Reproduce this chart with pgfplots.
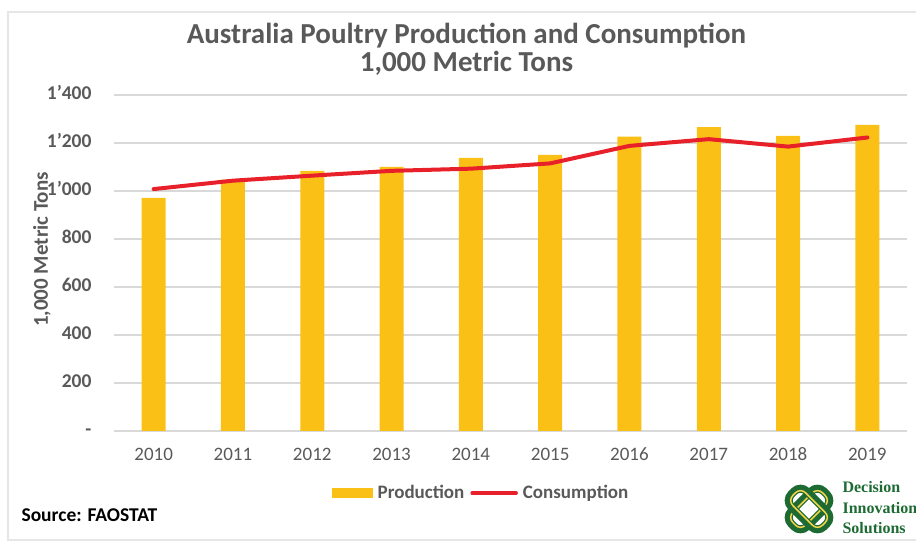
\documentclass[border=0pt]{standalone}
\usepackage{fontspec}
\setmainfont{Carlito}
\newfontfamily\logofont{Liberation Serif}
\usepackage{pgfplots}
\pgfplotsset{compat=1.18}
\definecolor{txtgray}{HTML}{595959}
\definecolor{gridgray}{HTML}{D9D9D9}
\definecolor{framegray}{HTML}{E6E6E6}
\definecolor{prodgold}{RGB}{251,192,22}
\definecolor{consred}{RGB}{232,32,42}
\definecolor{logogreen}{HTML}{1D6B33}
\definecolor{logoyellow}{HTML}{F3D34A}

\pgfplotstableread{
x year prod cons
0 2010 971 1008
1 2011 1047 1043
2 2012 1084 1064
3 2013 1101 1084
4 2014 1138 1093
5 2015 1151 1115
6 2016 1227 1188
7 2017 1266 1216
8 2018 1230 1185
9 2019 1275 1223
}\poultry

\begin{document}
\begin{tikzpicture}[x=1pt,y=1pt]
\useasboundingbox (0,0) rectangle (916,546);
% faint frame of the original screenshot
\draw[framegray, line width=2.5pt] (916,534) -- (8,534) -- (8,6) -- (916,6);
\begin{axis}[
  at={(114pt,115pt)}, anchor=south west,
  scale only axis, width=793pt, height=336pt,
  xmin=-0.5, xmax=9.5, ymin=0, ymax=1400,
  xtick=data, xticklabels={2010,2011,2012,2013,2014,2015,2016,2017,2018,2019},
  ytick={0,200,...,1400},
  yticklabels={-,200,400,600,800,1’000,1’200,1’400},
  axis line style={draw=none},
  major tick length=0pt,
  typeset ticklabels with strut,
  ymajorgrids, grid style={gridgray, line width=1.5pt},
  xticklabel style={font=\fontsize{19}{22}\selectfont, text=txtgray, yshift=-11pt},
  yticklabel style={font=\fontsize{19.5}{22}\selectfont\bfseries, text=txtgray, xshift=-19pt},
  ylabel={1,000 Metric Tons},
  ylabel style={at={(axis description cs:-0.0908,0.54)}, anchor=center,
    font=\fontsize{21}{24}\selectfont\bfseries, text=txtgray},
  title={Australia Poultry Production and Consumption\\1,000 Metric Tons},
  title style={at={(axis description cs:0.4445,1.119)}, anchor=center, align=center,
    font=\fontsize{29}{28.3}\selectfont\bfseries, text=txtgray},
  legend style={at={(axis description cs:0.4615,-0.1845)}, anchor=center,
    draw=none, fill=none, legend columns=2,
    font=\fontsize{19}{22}\selectfont\bfseries, text=txtgray,
    nodes={inner sep=0pt},
    /tikz/every odd column/.append style={column sep=5pt},
    /tikz/every even column/.append style={column sep=6pt}},
]
\addplot[ybar, bar width=24pt, bar shift=0pt, draw=none, fill=prodgold,
  legend image code/.code={\fill[prodgold] (0pt,-5pt) rectangle (41pt,5pt);}]
  table[x=x, y=prod] {\poultry};
\addlegendentry{Production}
\addplot[consred, line width=4pt, line cap=round, line join=round,
  legend image code/.code={\draw[consred, line width=3.5pt] (0pt,0pt) -- (44pt,0pt);}]
  table[x=x, y=cons] {\poultry};
\addlegendentry{Consumption}
\end{axis}
\node[anchor=west, font=\fontsize{19.5}{22}\selectfont\bfseries] at (18,31) {Source: FAOSTAT};
% logo
\begin{scope}[shift={(809,37)}]
  \foreach \a in {45,-45}{
    \draw[logogreen, line width=8pt, rounded corners=9pt, rotate=\a] (-23,-11) rectangle (23,11);
    \draw[logoyellow, line width=1.5pt, rounded corners=7pt, rotate=\a] (-21,-9) rectangle (21,9);
  }
\end{scope}
\node[anchor=west, align=left, text=logogreen, font=\logofont\bfseries\fontsize{16}{20.5}\selectfont]
  at (839,38) {Decision\\Innovation\\Solutions};
\end{tikzpicture}
\end{document}
